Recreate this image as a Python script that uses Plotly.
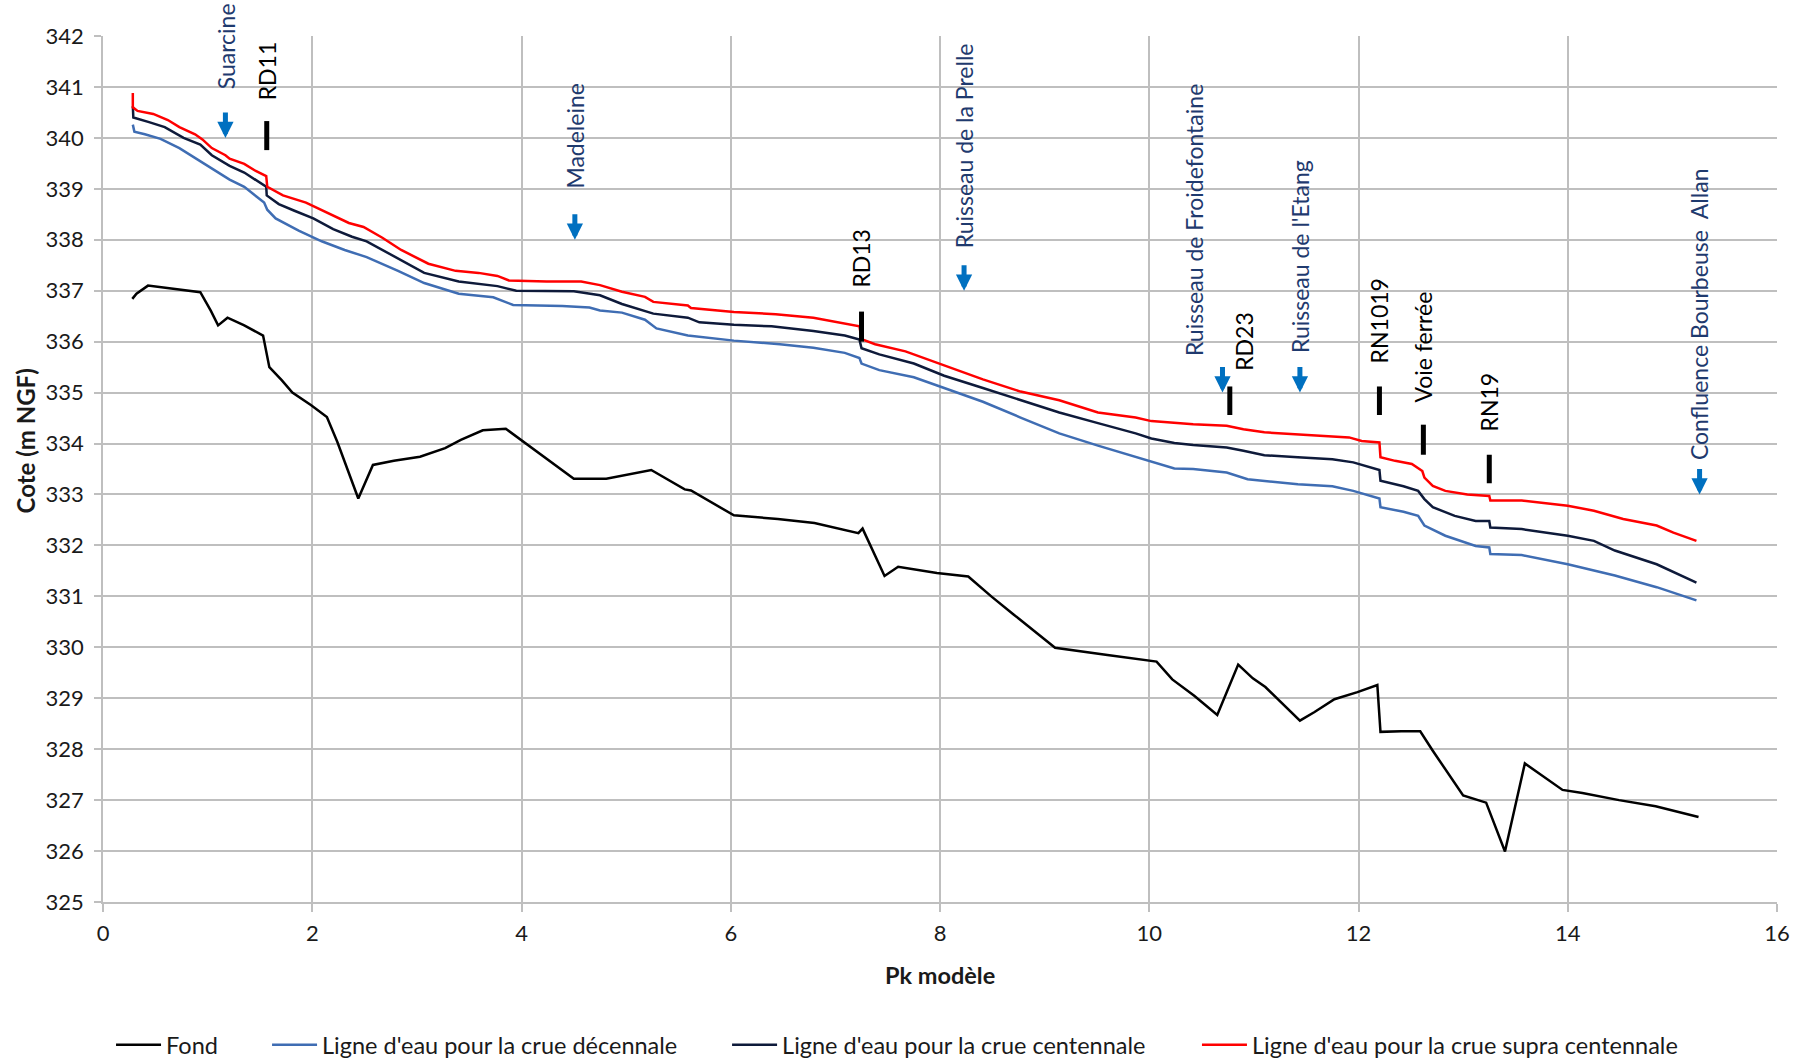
import plotly.graph_objects as go

# --- Long profile (Pk in km, elevations in m NGF) ---
pk_fond = [0.28, 0.32, 0.43, 0.62, 0.93, 1.03, 1.10, 1.19, 1.35, 1.53, 1.59, 1.71, 1.81, 1.99,
           2.14, 2.24, 2.34, 2.44, 2.58, 2.78, 3.03, 3.27, 3.42, 3.63, 3.85, 4.02, 4.23, 4.50,
           4.81, 5.24, 5.56, 5.62, 6.03, 6.45, 6.80, 7.08, 7.22, 7.26, 7.47, 7.60, 7.97, 8.27,
           8.49, 8.70, 9.10, 9.60, 10.07, 10.22, 10.43, 10.65, 10.85, 10.99, 11.11, 11.44, 11.58,
           11.77, 11.99, 12.18, 12.21, 12.41, 12.59, 12.71, 12.84, 13.00, 13.22, 13.40, 13.59,
           13.95, 14.14, 14.49, 14.84, 15.25]
z_fond = [336.84, 336.94, 337.10, 337.05, 336.97, 336.61, 336.32, 336.47, 336.32, 336.12, 335.50,
          335.24, 335.00, 334.75, 334.52, 334.03, 333.48, 332.92, 333.58, 333.66, 333.74, 333.91,
          334.07, 334.26, 334.29, 334.03, 333.71, 333.31, 333.31, 333.48, 333.10, 333.08, 332.59,
          332.52, 332.44, 332.30, 332.24, 332.33, 331.40, 331.58, 331.46, 331.39, 331.00, 330.65,
          329.99, 329.85, 329.72, 329.37, 329.05, 328.67, 329.66, 329.39, 329.22, 328.56, 328.73,
          328.98, 329.12, 329.26, 328.34, 328.35, 328.35, 327.97, 327.58, 327.09, 326.95, 325.99,
          327.72, 327.20, 327.14, 327.00, 326.88, 326.67]

pk_q10 = [0.285, 0.30, 0.40, 0.55, 0.73, 0.95, 1.21, 1.35, 1.54, 1.57, 1.65, 1.87, 2.09, 2.31,
          2.52, 2.82, 3.07, 3.40, 3.73, 3.92, 4.39, 4.65, 4.75, 4.96, 5.18, 5.29, 5.59, 6.03,
          6.47, 6.79, 7.09, 7.23, 7.25, 7.42, 7.75, 8.04, 8.41, 8.77, 9.14, 9.51, 10.02, 10.24,
          10.42, 10.74, 10.94, 11.22, 11.42, 11.75, 11.95, 12.20, 12.21, 12.43, 12.57, 12.63,
          12.83, 13.12, 13.25, 13.26, 13.56, 14.00, 14.45, 14.85, 15.23]
z_q10 = [340.26, 340.12, 340.07, 339.98, 339.80, 339.52, 339.18, 339.04, 338.73, 338.59, 338.42,
         338.18, 337.97, 337.80, 337.66, 337.39, 337.15, 336.94, 336.87, 336.72, 336.70, 336.67,
         336.61, 336.57, 336.43, 336.26, 336.12, 336.02, 335.95, 335.88, 335.78, 335.68, 335.57,
         335.44, 335.30, 335.09, 334.82, 334.51, 334.20, 333.96, 333.65, 333.51, 333.50, 333.43,
         333.30, 333.24, 333.20, 333.16, 333.07, 332.92, 332.75, 332.66, 332.58, 332.39, 332.19,
         331.99, 331.96, 331.83, 331.81, 331.63, 331.41, 331.18, 330.92]

pk_q100 = [0.285, 0.29, 0.44, 0.59, 0.77, 0.93, 1.04, 1.21, 1.35, 1.56, 1.565, 1.68, 1.83, 2.01,
           2.20, 2.38, 2.52, 2.85, 3.07, 3.40, 3.77, 3.95, 4.50, 4.75, 4.96, 5.26, 5.59, 5.70,
           6.03, 6.39, 6.79, 7.09, 7.23, 7.25, 7.42, 7.75, 8.04, 8.41, 8.77, 9.14, 9.51, 9.87,
           10.02, 10.24, 10.42, 10.74, 10.90, 11.10, 11.42, 11.75, 11.95, 12.20, 12.21, 12.43,
           12.57, 12.63, 12.71, 12.92, 13.12, 13.25, 13.26, 13.56, 14.00, 14.25, 14.45, 14.85, 15.23]
z_q100 = [340.62, 340.40, 340.31, 340.21, 340.00, 339.87, 339.66, 339.45, 339.32, 339.04, 338.87,
          338.70, 338.57, 338.42, 338.21, 338.06, 337.97, 337.60, 337.35, 337.18, 337.09, 337.00,
          336.99, 336.91, 336.74, 336.55, 336.47, 336.38, 336.33, 336.30, 336.21, 336.12, 336.04,
          335.87, 335.75, 335.57, 335.33, 335.09, 334.85, 334.61, 334.40, 334.20, 334.10, 334.01,
          333.97, 333.92, 333.86, 333.77, 333.73, 333.69, 333.63, 333.48, 333.27, 333.16, 333.07,
          332.91, 332.75, 332.58, 332.48, 332.48, 332.35, 332.32, 332.19, 332.09, 331.90, 331.63,
          331.27]

pk_supra = [0.285, 0.285, 0.33, 0.48, 0.62, 0.73, 0.88, 0.95, 1.04, 1.17, 1.21, 1.35, 1.46, 1.56,
            1.57, 1.72, 1.94, 2.12, 2.35, 2.49, 2.67, 2.85, 3.11, 3.37, 3.59, 3.77, 3.88, 4.24,
            4.57, 4.75, 4.96, 5.18, 5.26, 5.59, 5.62, 6.03, 6.43, 6.79, 7.01, 7.23, 7.25, 7.38,
            7.67, 8.00, 8.41, 8.77, 9.14, 9.51, 9.87, 10.02, 10.42, 10.74, 10.90, 11.10, 11.42,
            11.75, 11.91, 12.03, 12.20, 12.21, 12.35, 12.51, 12.61, 12.63, 12.71, 12.83, 13.04,
            13.25, 13.26, 13.56, 13.88, 14.00, 14.25, 14.53, 14.85, 15.01, 15.23]
z_supra = [340.88, 340.60, 340.53, 340.47, 340.35, 340.21, 340.07, 339.97, 339.80, 339.66, 339.59,
           339.49, 339.35, 339.25, 339.04, 338.87, 338.73, 338.56, 338.33, 338.25, 338.04, 337.80,
           337.53, 337.39, 337.35, 337.29, 337.20, 337.18, 337.18, 337.11, 336.98, 336.88, 336.78,
           336.71, 336.66, 336.58, 336.54, 336.47, 336.38, 336.30, 336.05, 335.95, 335.81, 335.57,
           335.26, 335.02, 334.85, 334.61, 334.51, 334.44, 334.38, 334.35, 334.28, 334.22, 334.18,
           334.15, 334.12, 334.05, 334.02, 333.73, 333.66, 333.60, 333.46, 333.33, 333.17, 333.07,
           333.00, 332.97, 332.88, 332.88, 332.81, 332.78, 332.68, 332.52, 332.39, 332.25, 332.09]

# Tributaries (arrow tip at the water line)
affluents = ["Suarcine", "Madeleine", "Ruisseau de la Prelle", "Ruisseau de Froidefontaine",
             "Ruisseau de l'Etang", "Confluence Bourbeuse  Allan"]
pk_affluents = [1.17, 4.51, 8.23, 10.70, 11.44, 15.26]
z_affluents = [340.0, 338.0, 337.0, 335.0, 335.0, 333.0]

# Structures (bridges, railway)
ouvrages = ["RD11", "RD13", "RD23", "RN1019", "Voie ferrée", "RN19"]
pk_ouvrages = [1.565, 7.25, 10.77, 12.20, 12.62, 13.25]
z_ouvrages_bas = [339.76, 336.00, 334.56, 334.56, 333.78, 333.22]
z_ouvrages_haut = [340.33, 336.59, 335.12, 335.12, 334.37, 333.78]

FONT = "Lato, Carlito, Calibri, sans-serif"
GRID = "#BFBFBF"
TXT = "#1a1a1a"

fig = go.Figure()
series = [
    ("Fond", pk_fond, z_fond, "#000000", "legend"),
    ("Ligne d'eau pour la crue décennale", pk_q10, z_q10, "#3F6DB3", "legend2"),
    ("Ligne d'eau pour la crue centennale", pk_q100, z_q100, "#0E1A3A", "legend3"),
    ("Ligne d'eau pour la crue supra centennale", pk_supra, z_supra, "#FF0000", "legend4"),
]
for name, xs, ys, col, leg in series:
    fig.add_trace(go.Scatter(x=xs, y=ys, mode="lines", name=name, showlegend=True,
                             line=dict(color=col, width=2.5), legend=leg))

annotations = []
# tributary arrows and labels
label_offset = [47, 49, 40, 35, 38, 32]
label_xshift = [0, 0, 0, -29, 0, 0]
for name, x, z, off, xs in zip(affluents, pk_affluents, z_affluents, label_offset, label_xshift):
    annotations.append(dict(x=x, y=z, xref="x", yref="y", text="", showarrow=True,
                            ax=0, ay=-27, arrowhead=2, arrowsize=0.65, arrowwidth=5,
                            arrowcolor="#0070C0", standoff=0))
    annotations.append(dict(x=x, y=z, xref="x", yref="y", text=name, showarrow=False,
                            textangle=-90, xanchor="center", yanchor="bottom",
                            yshift=off, xshift=xs,
                            font=dict(family=FONT, size=23, color="#1F3A6E")))

# structure markers and labels
shapes = []
o_offset = [19, 22, 14, 21, 20, 21]
o_xshift = [0, 0, 14, 0, 0, 0]
for name, x, zb, zh, off, xs in zip(ouvrages, pk_ouvrages, z_ouvrages_bas, z_ouvrages_haut,
                                     o_offset, o_xshift):
    shapes.append(dict(type="line", xref="x", yref="y", x0=x, x1=x, y0=zb, y1=zh,
                       line=dict(color="#000000", width=5)))
    annotations.append(dict(x=x, y=zh, xref="x", yref="y", text=name, showarrow=False,
                            textangle=-90, xanchor="center", yanchor="bottom",
                            yshift=off, xshift=xs,
                            font=dict(family=FONT, size=23, color="#000000")))

# axis titles
annotations.append(dict(x=-0.0466, y=0.533, xref="paper", yref="paper", text="<b>Cote (m NGF)</b>",
                        showarrow=False, textangle=-90, xanchor="center", yanchor="middle",
                        font=dict(family=FONT, size=24, color=TXT)))
annotations.append(dict(x=0.5, y=-0.0843, xref="paper", yref="paper", text="<b>Pk modèle</b>",
                        showarrow=False, xanchor="center", yanchor="middle",
                        font=dict(family=FONT, size=23.5, color=TXT)))

def legend_at(xpos):
    return dict(orientation="h", x=xpos, y=-0.165, xanchor="left", yanchor="middle",
                font=dict(family=FONT, size=23.5, color=TXT), bgcolor="rgba(0,0,0,0)",
                itemwidth=45, borderwidth=0)

fig.update_layout(
    width=1814, height=1060,
    margin=dict(l=103, r=37, t=36, b=158, autoexpand=False),
    showlegend=True,
    paper_bgcolor="white", plot_bgcolor="white",
    font=dict(family=FONT, size=22, color=TXT),
    xaxis=dict(range=[0, 16], dtick=2, tick0=0, showgrid=True, gridcolor=GRID, gridwidth=1.5,
               showline=True, linecolor=GRID, linewidth=1.5, mirror=False,
               ticks="outside", ticklen=8, tickcolor=GRID, tickwidth=1.5,
               zeroline=False, ticklabelstandoff=3,
               tickfont=dict(family=FONT, size=22, color=TXT)),
    yaxis=dict(range=[325, 342], dtick=1, tick0=325, showgrid=True, gridcolor=GRID, gridwidth=1.5,
               showline=True, linecolor=GRID, linewidth=1.5,
               ticks="outside", ticklen=7, tickcolor=GRID, tickwidth=1.5,
               zeroline=False, ticklabelstandoff=6,
               tickfont=dict(family=FONT, size=22, color=TXT)),
    legend=legend_at(0.0048),
    legend2=legend_at(0.098),
    legend3=legend_at(0.3728),
    legend4=legend_at(0.6535),
    annotations=annotations,
    shapes=shapes,
)

fig.write_html("out.html")
